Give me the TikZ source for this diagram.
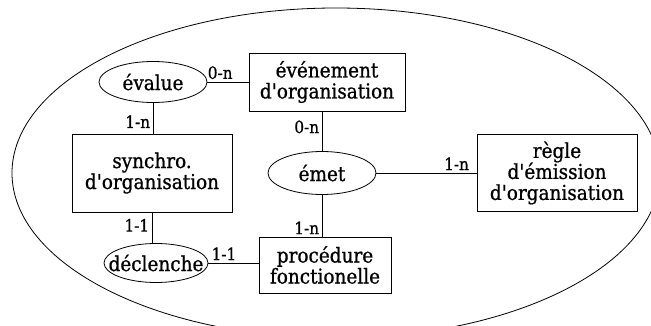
\documentclass[tikz,border=0pt]{standalone}
\usepackage{fontspec}
\setmainfont{DejaVu Serif Condensed}[Ligatures=TeXOff, FakeBold=0.8]
\usetikzlibrary{shapes.geometric}

\begin{document}
\begin{tikzpicture}[
  x=1pt, y=1pt,
  entite/.style={draw, line width=0.8pt, align=center, inner sep=0pt,
                 font=\fontsize{20.5}{21}\selectfont},
  assoc/.style={draw, ellipse, line width=0.8pt, inner sep=0pt,
                minimum width=108pt, minimum height=41pt,
                font=\fontsize{20.5}{21}\selectfont},
  lien/.style={line width=0.8pt},
  card/.style={font=\fontsize{17}{18}\selectfont, inner sep=2.5pt},
]
\useasboundingbox (0,0) rectangle (651,325);

% Domaine
\draw[line width=0.8pt] (336,152) ellipse [x radius=324, y radius=165];

% Entités
\node[entite, minimum width=156pt, minimum height=58pt] (evt)   at (327,243) {événement\\d'organisation};
\node[entite, minimum width=160pt, minimum height=78pt] (sync)  at (152,152) {synchro.\\d'organisation};
\node[entite, minimum width=160pt, minimum height=77pt] (regle) at (557,152) {règle\\d'émission\\d'organisation};
\node[entite, minimum width=132pt, minimum height=56pt] (proc)  at (325,60)  {procédure\\fonctionelle};

% Associations
\node[assoc] (eval) at (153,243) {évalue};
\node[assoc, minimum height=43pt] (emet) at (322,152) {émet};
\node[assoc, minimum width=104pt, minimum height=39pt, inner xsep=-12pt] (decl) at (156,62) {déclenche};

% Liens
\draw[lien] (eval) -- node[card, above, pos=0.31] {0-n} (evt);
\draw[lien] (eval) -- node[card, left, pos=0.61] {1-n} (eval |- sync.north);
\draw[lien] (emet |- evt.south) -- node[card, left, pos=0.39] {0-n} (emet);
\draw[lien] (emet) -- node[card, above, pos=0.8] {1-n} (regle);
\draw[lien] (emet) -- node[card, left, pos=0.79] {1-n} (emet |- proc.north);
\draw[lien] (sync) -- node[card, left, pos=0.42] {1-1} (sync |- decl.north);
\draw[lien] (decl) -- node[card, above, pos=0.31] {1-1} (decl -| proc.west);

\end{tikzpicture}
\end{document}
